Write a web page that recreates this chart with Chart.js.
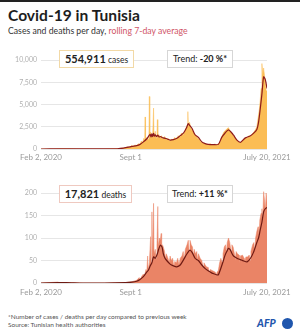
<!DOCTYPE html>
<html>
<head>
<meta charset="utf-8">
<script src="https://cdn.jsdelivr.net/npm/chart.js@4"></script>
<style>
  body { margin: 0; width: 300px; height: 335px; background: #fff; font-family: Lato, "Open Sans", sans-serif; position: relative; overflow: hidden; }
  .topbar { position: absolute; left: 0; top: 0; width: 300px; height: 2px; background: #222; }
  .title { position: absolute; left: 8px; top: 8px; font-size: 15.6px; font-weight: 700; line-height: 1; color: #1d1d1d; }
  .sub { position: absolute; left: 8px; top: 26.5px; font-size: 8.7px; line-height: 1; color: #333; }
  .sub span { color: #d05567; }
  canvas { position: absolute; left: 0; }
  .box { position: absolute; height: 16px; line-height: 16px; background: #fff; text-align: center; font-size: 8.5px; color: #222; white-space: nowrap; }
  .box b { font-size: 11px; }
  .note { position: absolute; left: 8px; font-size: 6.5px; line-height: 1; color: #555; }
  .afp { position: absolute; left: 257px; top: 318px; font-size: 10.5px; font-weight: 900; font-style: italic; color: #1f56ad; line-height: 1; }
  .dot { position: absolute; left: 282px; top: 318px; width: 11px; height: 11px; border-radius: 50%; background: #1f56ad; }
</style>
</head>
<body>
<div class="topbar"></div>
<div class="title">Covid-19 in Tunisia</div>
<div class="sub">Cases and deaths per day, <span>rolling 7-day average</span></div>

<canvas id="casesChart" width="300" height="125" style="top:50px"></canvas>
<canvas id="deathsChart" width="300" height="129" style="top:180px"></canvas>

<div class="box" style="left:59px; top:50px; width:73px; border:1px solid #f2d9a6;"><b>554,911</b> cases</div>
<div class="box" style="left:167px; top:50px; width:64px; border:1px solid #d6d6d6; font-size:9px;">Trend: <b style="font-size:9px">-20 %*</b></div>
<div class="box" style="left:59px; top:185px; width:71px; border:1px solid #efc9c0;"><b>17,821</b> deaths</div>
<div class="box" style="left:167px; top:185px; width:64px; border:1px solid #d6d6d6; font-size:9px;">Trend: <b style="font-size:9px">+11 %*</b></div>

<div class="note" style="top:314px">*Number of cases / deaths per day compared to previous week</div>
<div class="note" style="top:322px">Source: Tunisian health authorities</div>
<div class="afp">AFP</div>
<div class="dot"></div>

<script>
// jours depuis le 2 février 2020
const xTickDays = [0, 212, 534];
const xTickLabels = ['Feb 2, 2020', 'Sept 1', 'July 20, 2021'];
const casesTicks = [0, 2500, 5000, 7500, 10000];
const deathsTicks = [0, 50, 100, 150, 200];

// cas par jour
const caseDays = [0, 30, 45, 55, 62, 70, 90, 120, 150, 170, 185, 195, 200, 205, 210, 214, 218, 222, 226, 230, 234, 237, 240, 243, 245, 246, 247, 250, 253, 255, 256, 257, 259, 262, 264, 266, 267, 270, 272, 274, 275, 276, 279, 282, 285, 288, 292, 296, 300, 304, 308, 312, 316, 320, 324, 328, 332, 336, 340, 344, 346, 347, 348, 351, 354, 358, 362, 366, 370, 374, 378, 382, 386, 390, 395, 400, 405, 410, 415, 420, 424, 428, 432, 436, 440, 443, 447, 451, 455, 459, 463, 467, 471, 475, 479, 483, 487, 491, 495, 499, 503, 507, 510, 513, 516, 518, 520, 522, 524, 526, 528, 530, 532, 534];
const caseDaily = [0, 0, 20, 40, 30, 15, 5, 2, 10, 20, 60, 120, 150, 250, 200, 400, 300, 450, 380, 600, 500, 900, 700, 1200, 900, 3600, 800, 1300, 1100, 1500, 5900, 1200, 1900, 1400, 1700, 4600, 1300, 2000, 1200, 1600, 3300, 1300, 1600, 1200, 1500, 1100, 1400, 1000, 1200, 900, 1100, 1000, 1300, 1100, 1500, 1300, 1800, 1600, 2000, 2500, 2700, 4200, 2700, 3000, 2400, 2100, 1700, 1500, 1200, 1100, 800, 700, 600, 550, 500, 600, 450, 550, 500, 600, 900, 1500, 1900, 2100, 2300, 2400, 2000, 1800, 1500, 1200, 1000, 800, 700, 900, 1100, 1300, 1200, 1500, 1400, 1700, 1900, 2200, 2500, 3500, 4500, 5500, 6800, 9600, 8200, 9100, 8300, 7400, 6600, 6500];

// moyenne 7 jours des cas
const caseAvgDays = [0, 45, 60, 75, 100, 150, 180, 195, 203, 215, 226, 234, 242, 250, 256, 258, 260, 262, 264, 266, 268, 270, 273, 276, 279, 282, 286, 289, 293, 297, 305, 313, 321, 329, 337, 344, 348, 352, 357, 364, 372, 380, 388, 395, 407, 419, 427, 435, 443, 451, 455, 463, 471, 477, 483, 495, 502, 510, 514, 518, 522, 526, 530, 534];
const caseAvg = [0, 15, 30, 15, 3, 8, 30, 90, 180, 300, 380, 520, 800, 1150, 1550, 1650, 1350, 1700, 1400, 1750, 1450, 1600, 1400, 1550, 1350, 1400, 1300, 1250, 1200, 1150, 1000, 1050, 1200, 1500, 1800, 2400, 2850, 2600, 2300, 1600, 1300, 800, 600, 520, 500, 520, 1300, 1800, 2150, 1800, 1550, 1000, 750, 1000, 1250, 1500, 1750, 2200, 3000, 4500, 6200, 8100, 7800, 6800];

// décès par jour
const deathDays = [0, 40, 45, 60, 100, 150, 200, 215, 226, 232, 234, 238, 242, 244, 248, 250, 252, 253, 256, 259, 260, 262, 263, 266, 267, 270, 272, 274, 276, 277, 280, 282, 284, 285, 287, 289, 292, 294, 296, 300, 303, 305, 308, 311, 314, 316, 320, 323, 326, 329, 333, 336, 338, 341, 345, 348, 350, 352, 355, 358, 360, 362, 365, 368, 370, 372, 376, 380, 383, 385, 388, 392, 395, 398, 400, 404, 408, 412, 414, 416, 419, 422, 425, 428, 430, 433, 436, 438, 440, 443, 446, 449, 451, 454, 457, 459, 461, 464, 468, 470, 472, 476, 480, 482, 484, 488, 492, 494, 496, 500, 503, 505, 507, 510, 513, 515, 517, 520, 522, 524, 526, 528, 530, 532, 534];
const deathDaily = [0, 2, 0, 1, 0, 0, 1, 3, 6, 12, 6, 15, 20, 14, 30, 25, 60, 28, 45, 103, 45, 158, 50, 177, 65, 75, 55, 85, 170, 80, 100, 95, 110, 70, 85, 80, 70, 55, 65, 55, 45, 60, 50, 55, 35, 48, 45, 55, 40, 55, 60, 70, 50, 75, 85, 95, 70, 95, 85, 80, 60, 75, 65, 70, 50, 65, 55, 50, 35, 45, 40, 35, 35, 22, 30, 28, 26, 24, 16, 24, 28, 45, 55, 45, 65, 80, 85, 65, 90, 100, 90, 70, 85, 80, 65, 50, 70, 65, 62, 45, 60, 62, 55, 45, 58, 58, 62, 50, 70, 85, 90, 70, 100, 115, 125, 100, 140, 155, 165, 140, 203, 185, 160, 200, 180];

// moyenne 7 jours des décès
const deathAvgDays = [0, 40, 60, 100, 150, 200, 215, 226, 234, 242, 248, 254, 258, 262, 266, 270, 275, 278, 282, 286, 289, 293, 297, 305, 313, 321, 329, 337, 345, 352, 357, 364, 368, 372, 380, 388, 395, 404, 410, 416, 419, 424, 431, 435, 439, 443, 447, 451, 455, 463, 471, 479, 487, 495, 502, 510, 514, 518, 522, 526, 530, 534];
const deathAvg = [0, 1, 1, 0, 0, 1, 2, 4, 8, 14, 22, 29, 38, 45, 58, 55, 65, 75, 84, 80, 65, 55, 50, 42, 38, 36, 40, 52, 65, 73, 68, 55, 52, 50, 40, 32, 27, 22, 20, 18, 18, 30, 50, 62, 70, 77, 74, 66, 60, 55, 52, 49, 47, 55, 68, 90, 100, 118, 135, 158, 165, 168];

function points(days, values) {
    return days.map((d, i) => ({ x: d, y: values[i] }));
}

function crearGrafico(canvasId, dailyDays, daily, avgDays, avg, ticks, yMax, fillColor, lineColor, padTop, xPad) {
    new Chart(document.getElementById(canvasId).getContext('2d'), {
        type: 'line',
        data: {
            datasets: [{
                data: points(avgDays, avg),
                borderColor: lineColor,
                borderWidth: 1.2,
                pointRadius: 0,
                tension: 0.25,
                fill: false
            }, {
                data: points(dailyDays, daily),
                borderColor: fillColor,
                borderWidth: 0.5,
                backgroundColor: fillColor,
                pointRadius: 0,
                tension: 0,
                fill: 'origin'
            }]
        },
        options: {
            responsive: false,
            animation: false,
            layout: { padding: { top: padTop, right: 33, left: 0, bottom: 10 } },
            plugins: { legend: { display: false }, tooltip: { enabled: false } },
            scales: {
                x: {
                    type: 'linear',
                    min: 0,
                    max: 534,
                    grid: { display: false, drawTicks: false },
                    border: { display: false },
                    afterBuildTicks: s => { s.ticks = xTickDays.map(v => ({ value: v })); },
                    afterFit: s => { s.height = 16; },
                    ticks: {
                        padding: xPad,
                        maxRotation: 0,
                        autoSkip: false,
                        color: '#9a9a9a',
                        font: { family: 'Lato', size: 8 },
                        callback: v => xTickLabels[xTickDays.indexOf(v)]
                    }
                },
                y: {
                    min: 0,
                    max: yMax,
                    grid: { color: '#e6e6e6', drawTicks: false },
                    border: { display: false },
                    afterBuildTicks: s => { s.ticks = ticks.map(v => ({ value: v })); },
                    afterFit: s => { s.width = 41; },
                    ticks: {
                        padding: 4,
                        color: '#b0b0b0',
                        font: { family: 'Lato', size: 7 },
                        callback: v => v.toLocaleString('en-US')
                    }
                }
            }
        }
    });
}

crearGrafico('casesChart', caseDays, caseDaily, caseAvgDays, caseAvg, casesTicks, 10000, '#fbbd55', '#8e1b1b', 10, 4);
crearGrafico('deathsChart', deathDays, deathDaily, deathAvgDays, deathAvg, deathsTicks, 210, '#ea8466', '#6e1a13', 8.5, 5);
</script>
</body>
</html>
